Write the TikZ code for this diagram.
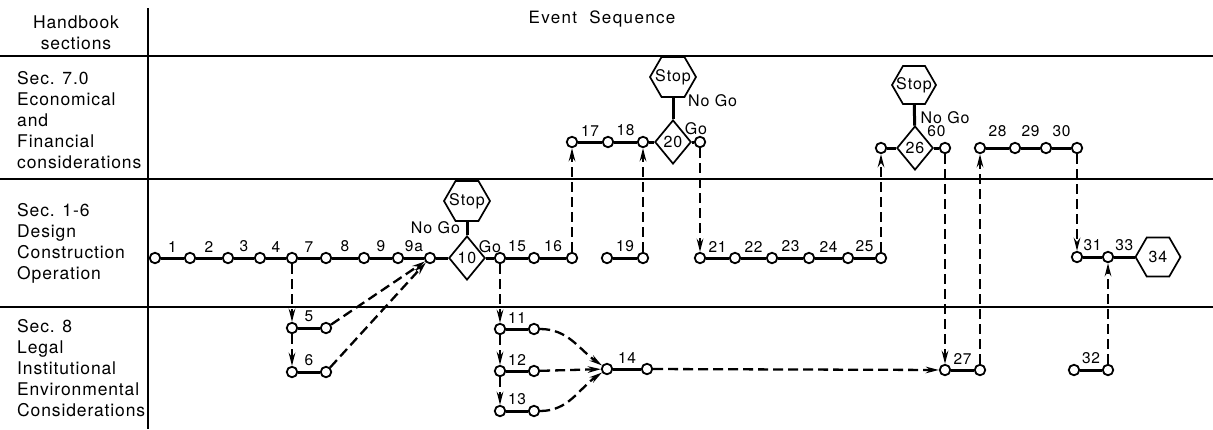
\documentclass[tikz,border=0pt]{standalone}
\usepackage{fontspec}
\setmainfont{TeX Gyre Heros}[LetterSpace=5]
\usetikzlibrary{shapes.geometric,arrows.meta}

\begin{document}
\begin{tikzpicture}[x=1pt,y=-1pt,
  every node/.style={font=\fontsize{15}{21}\selectfont},
  band/.style={line width=1.4pt},
  ev/.style={circle,draw,fill=white,line width=1.8pt,minimum size=10.5pt,inner sep=0pt},
  gate/.style={diamond,draw,fill=white,line width=1.7pt,minimum width=26pt,minimum height=44pt,inner sep=0pt},
  stopbox/.style={regular polygon,regular polygon sides=6,draw,line width=1.7pt,minimum size=46pt,inner sep=0pt},
  act/.style={line width=3pt},
  dep/.style={line width=2.3pt,dash pattern=on 10pt off 5pt,-{Stealth[length=13pt,width=6.5pt]}},
  num/.style={above=3pt,inner sep=1.5pt,font=\fontsize{15.5}{18}\selectfont\addfontfeature{LetterSpace=5}},
  gol/.style={inner sep=1.5pt,font=\fontsize{16}{18}\selectfont\addfontfeature{LetterSpace=6}},
  sec/.style={anchor=west,align=left,inner sep=0pt,font=\fontsize{17.5}{21}\selectfont}]
\useasboundingbox (0,0) rectangle (1213,429);

% table lines
\draw[band] (0,56) -- (1213,56);
\draw[band] (0,179) -- (1213,179);
\draw[band] (0,307) -- (1213,307);
\draw[band] (148,8) -- (148,429);

% headings
\node[align=center,font=\fontsize{17.5}{21}\selectfont] (hbk) at (76,33) {Handbook\\sections};
\node[font=\fontsize{17}{20}\selectfont\addfontfeature{LetterSpace=8}] (evseq) at (602,19) {Event\ \ Sequence};
\node[sec] (sec7) at (17,120) {Sec. 7.0\\Economical\\and\\Financial\\considerations};
\node[sec] (sec16) at (17,243) {Sec. 1-6\\Design\\Construction\\Operation};
\node[sec] (sec8) at (17,368) {Sec. 8\\Legal\\Institutional\\Environmental\\Considerations};

% Sec. 1-6 row
\node[ev] (a1) at (155,258) {};
\node[ev] (a2) at (190,258) {};
\node[ev] (a3) at (228,258) {};
\node[ev] (a4) at (260,258) {};
\node[ev] (a7) at (292,258) {};
\node[ev] (a8) at (326,258) {};
\node[ev] (a9) at (364,258) {};
\node[ev] (a9a) at (398,258) {};
\node[ev] (j10) at (430,258) {};
\node[gate,gol] (g10) at (467,258) {10};
\node[stopbox,label={[gol]center:Stop}] (h10) at (467,201) {};
\node[ev] (a15) at (500,258) {};
\node[ev] (a16) at (534,258) {};
\node[ev] (e16) at (572,258) {};
\node[ev] (a19) at (607,258) {};
\node[ev] (e19) at (643,258) {};
\node[ev] (a21) at (700,258) {};
\node[ev] (a22) at (735,258) {};
\node[ev] (a23) at (772,258) {};
\node[ev] (a24) at (809,258) {};
\node[ev] (a25) at (848,258) {};
\node[ev] (e25) at (881,258) {};
\node[ev] (a31) at (1077,257) {};
\node[ev] (a33) at (1108,257) {};
\node[stopbox,minimum size=45pt,label={[gol]center:34}] (h34) at (1158,257) {};

% Sec. 7.0 row
\node[ev] (a17) at (572,142) {};
\node[ev] (a18) at (608,142) {};
\node[ev] (e18) at (643,142) {};
\node[gate,gol] (g20) at (673,142) {20};
\node[stopbox,label={[gol]center:Stop}] (h20) at (673,77) {};
\node[ev] (go20) at (700,142) {};
\node[ev] (p26) at (881,148) {};
\node[gate,gol] (g26) at (915,148) {26};
\node[stopbox,minimum size=44pt,label={[gol]center:Stop}] (h26) at (914,85) {};
\node[ev] (a60) at (945,148) {};
\node[ev] (a28) at (980,148) {};
\node[ev] (a29) at (1015,148) {};
\node[ev] (a30) at (1046,148) {};
\node[ev] (e30) at (1077,148) {};

% Sec. 8 row
\node[ev] (a5) at (292,328) {};
\node[ev] (e5) at (326,328) {};
\node[ev] (a6) at (292,372) {};
\node[ev] (e6) at (326,372) {};
\node[ev] (a11) at (500,329) {};
\node[ev] (e11) at (534,329) {};
\node[ev] (a12) at (500,371) {};
\node[ev] (e12) at (534,371) {};
\node[ev] (a13) at (500,411) {};
\node[ev] (e13) at (534,411) {};
\node[ev] (a14) at (607,369) {};
\node[ev] (e14) at (647,369) {};
\node[ev] (a27) at (945,370) {};
\node[ev] (e27) at (980,370) {};
\node[ev] (a32) at (1074,370) {};
\node[ev] (e32) at (1108,370) {};

% activities
\draw[act] (a1) -- node[num] {1} (a2) -- node[num] {2} (a3) -- node[num] {3} (a4)
  -- node[num] {4} (a7) -- node[num] {7} (a8) -- node[num] {8} (a9)
  -- node[num] {9} (a9a) -- node[num] {9a} (j10) -- (g10);
\draw[act] (g10) -- node[gol,above=2.5pt] {Go} (a15) -- node[num] {15} (a16) -- node[num] {16} (e16);
\draw[act] (h10) -- node[gol,left=4pt,pos=0.45] {No Go} (g10);
\draw[act] (a19) -- node[num] {19} (e19);
\draw[act] (a21) -- node[num] {21} (a22) -- node[num] {22} (a23) -- node[num] {23} (a24)
  -- node[num] {24} (a25) -- node[num] {25} (e25);
\draw[act] (a31) -- node[num] {31} (a33) -- node[num] {33} (h34);
\draw[act] (a17) -- node[num] {17} (a18) -- node[num] {18} (e18) -- (g20)
  -- node[gol,above=4pt,xshift=3pt] {Go} (go20);
\draw[act] (h20) -- node[gol,right=12pt,pos=0.12] {No Go} (g20);
\draw[act] (p26) -- (g26) -- node[num,above=5pt] {60} (a60);
\draw[act] (h26) -- node[gol,right=3pt,pos=0.6] {No Go} (g26);
\draw[act] (a28) -- node[num,above=5pt] {28} (a29) -- node[num,above=5pt] {29} (a30) -- node[num,above=5pt] {30} (e30);
\draw[act] (a5) -- node[num] {5} (e5);
\draw[act] (a6) -- node[num] {6} (e6);
\draw[act] (a11) -- node[num] {11} (e11);
\draw[act] (a12) -- node[num] {12} (e12);
\draw[act] (a13) -- node[num] {13} (e13);
\draw[act] (a14) -- node[num] {14} (e14);
\draw[act] (a27) -- node[num] {27} (e27);
\draw[act] (a32) -- node[num] {32} (e32);

% dependencies
\draw[dep] (a7) -- (a5);
\draw[dep] (a5) -- (a6);
\draw[dep] (e5) -- (j10);
\draw[dep] (e6) -- (j10);
\draw[dep] (a15) -- (a11);
\draw[dep] (a11) -- (a12);
\draw[dep] (a12) -- (a13);
\draw[dep] (e11) to[out=0,in=145] (a14);
\draw[dep] (e12) -- (a14);
\draw[dep] (e13) to[out=0,in=-145] (a14);
\draw[dep] (e14) -- (a27);
\draw[dep] (e16) -- (a17);
\draw[dep] (e19) -- (e18);
\draw[dep] (go20) -- (a21);
\draw[dep] (e25) -- (p26);
\draw[dep] (a60) -- (a27);
\draw[dep] (e27) -- (a28);
\draw[dep] (e30) -- (a31);
\draw[dep] (e32) -- (a33);
\end{tikzpicture}
\end{document}
